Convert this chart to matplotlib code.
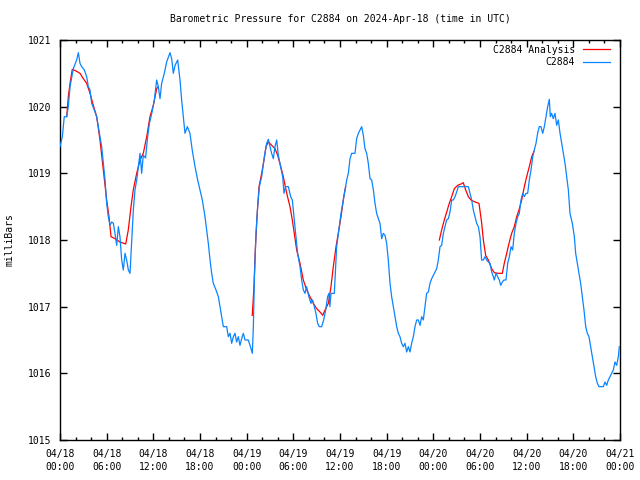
import matplotlib
matplotlib.use("Agg")
import matplotlib.pyplot as plt
from matplotlib.ticker import MultipleLocator, FixedLocator

plt.rcParams['font.family'] = ['DejaVu Sans Mono']

TITLE = "Barometric Pressure for C2884 on 2024-Apr-18 (time in UTC)"
YLABEL = "milliBars"
obs_label = "C2884"
ana_label = "C2884 Analysis"

# hours since 2024-04-18 00:00 UTC
obs_hours = [0, 0.3, 0.55, 0.86, 1.07, 1.29, 1.71, 2.14, 2.36, 2.57, 2.79, 3.13, 3.43, 3.64, 3.86,
             4.07, 4.41, 4.71, 4.93, 5.14, 5.36, 5.57, 5.79, 6.00, 6.21, 6.43, 6.64, 6.86, 7.07,
             7.29, 7.50, 7.71, 7.93, 8.14, 8.36, 8.57, 8.79, 9.00, 9.21, 9.43, 9.64, 9.86, 10.07,
             10.29, 10.50, 10.71, 11.00, 11.27, 11.50, 11.80, 12.13, 12.43, 12.64, 12.86, 13.07,
             13.41, 13.71, 14.14, 14.36, 14.57, 14.79, 15.13, 15.43, 15.64, 15.86, 16.07, 16.37,
             16.71, 17.00, 17.36, 17.70, 18.00, 18.30, 18.64, 18.86, 19.07, 19.29, 19.50, 19.71,
             20.06, 20.36, 20.57, 20.79, 21.00, 21.43, 21.64, 21.86, 22.07, 22.29, 22.50, 22.71,
             22.93, 23.14, 23.36, 23.57, 23.79, 24.21, 24.43, 24.73, 24.86, 25.00, 25.20, 25.41,
             25.63, 25.93, 26.27, 26.57, 26.79, 27.00, 27.21, 27.43, 27.64, 27.86, 28.07, 28.37,
             28.63, 28.80, 29.00, 29.36, 29.66, 29.87, 30.13, 30.30, 30.55, 30.86, 31.07, 31.29,
             31.50, 31.71, 32.00, 32.27, 32.48, 32.70, 32.90, 33.13, 33.34, 33.64, 33.90, 34.16,
             34.41, 34.58, 34.70, 34.84, 35.27, 35.57, 35.79, 36.13, 36.43, 36.64, 36.86, 37.07,
             37.29, 37.50, 37.93, 38.14, 38.36, 38.57, 38.79, 39.00, 39.21, 39.43, 39.64, 39.86,
             40.07, 40.29, 40.50, 40.71, 40.93, 41.14, 41.36, 41.57, 41.79, 42.00, 42.21, 42.43,
             42.64, 42.86, 43.07, 43.29, 43.50, 43.71, 43.93, 44.14, 44.36, 44.57, 44.79, 45.00,
             45.21, 45.43, 45.64, 45.86, 46.07, 46.29, 46.50, 46.71, 46.93, 47.14, 47.36, 47.57,
             47.79, 48.00, 48.21, 48.43, 48.64, 48.86, 49.07, 49.29, 49.50, 49.71, 49.93, 50.14,
             50.36, 50.57, 50.79, 51.00, 51.21, 51.64, 52.07, 52.50, 52.71, 52.93, 53.14, 53.36,
             53.57, 53.79, 54.00, 54.21, 54.43, 54.64, 54.86, 55.07, 55.29, 55.50, 55.71, 55.84,
             56.06, 56.27, 56.48, 56.66, 56.87, 57.08, 57.34, 57.56, 57.77, 57.99, 58.20, 58.41,
             58.63, 58.85, 59.05, 59.27, 59.49, 59.70, 59.91, 60.13, 60.34, 60.56, 60.78, 60.98,
             61.20, 61.41, 61.62, 61.84, 62.06, 62.27, 62.49, 62.70, 62.91, 63.04, 63.21, 63.42,
             63.64, 63.86, 64.07, 64.29, 64.50, 64.71, 64.93, 65.14, 65.36, 65.57, 65.87, 66.13,
             66.30, 66.51, 66.73, 66.94, 67.16, 67.37, 67.59, 67.80, 68.01, 68.23, 68.44, 68.66,
             68.87, 69.09, 69.30, 69.64, 69.86, 70.07, 70.29, 70.50, 70.71, 70.93, 71.14, 71.36,
             71.57, 71.79, 71.91]
obs_mb = [1019.40, 1019.55, 1019.85, 1019.85, 1020.00, 1020.30, 1020.57, 1020.70, 1020.81, 1020.65,
          1020.60, 1020.55, 1020.45, 1020.30, 1020.25, 1020.05, 1019.95, 1019.85, 1019.70, 1019.55,
          1019.40, 1019.15, 1018.90, 1018.55, 1018.35, 1018.22, 1018.27, 1018.25, 1018.10, 1017.92,
          1018.20, 1018.05, 1017.70, 1017.55, 1017.80, 1017.70, 1017.55, 1017.50, 1017.95, 1018.45,
          1018.75, 1018.90, 1019.10, 1019.30, 1019.00, 1019.27, 1019.23, 1019.55, 1019.75, 1019.90,
          1020.10, 1020.40, 1020.30, 1020.12, 1020.35, 1020.50, 1020.67, 1020.81, 1020.72, 1020.50,
          1020.62, 1020.70, 1020.40, 1020.10, 1019.85, 1019.60, 1019.70, 1019.60, 1019.35, 1019.10,
          1018.90, 1018.75, 1018.60, 1018.35, 1018.15, 1017.95, 1017.70, 1017.50, 1017.35, 1017.25,
          1017.15, 1017.00, 1016.85, 1016.70, 1016.70, 1016.55, 1016.60, 1016.45, 1016.55, 1016.60,
          1016.47, 1016.55, 1016.42, 1016.52, 1016.60, 1016.50, 1016.50, 1016.42, 1016.30, 1016.70,
          1017.45, 1018.10, 1018.50, 1018.80, 1018.95, 1019.25, 1019.45, 1019.51, 1019.40, 1019.30,
          1019.22, 1019.40, 1019.50, 1019.27, 1019.10, 1018.95, 1018.70, 1018.80, 1018.80, 1018.65,
          1018.60, 1018.30, 1018.10, 1017.80, 1017.60, 1017.40, 1017.25, 1017.20, 1017.30, 1017.15,
          1017.05, 1017.10, 1017.00, 1016.90, 1016.75, 1016.70, 1016.70, 1016.80, 1016.95, 1017.15,
          1017.20, 1017.00, 1017.20, 1017.20, 1017.90, 1018.10, 1018.40, 1018.60, 1018.75, 1018.90,
          1019.00, 1019.22, 1019.30, 1019.30, 1019.52, 1019.60, 1019.65, 1019.70, 1019.57, 1019.37,
          1019.30, 1019.15, 1018.92, 1018.90, 1018.75, 1018.55, 1018.40, 1018.32, 1018.25, 1018.02,
          1018.10, 1018.07, 1017.95, 1017.70, 1017.35, 1017.15, 1017.00, 1016.85, 1016.70, 1016.60,
          1016.55, 1016.45, 1016.40, 1016.45, 1016.32, 1016.40, 1016.32, 1016.45, 1016.55, 1016.70,
          1016.80, 1016.80, 1016.72, 1016.85, 1016.80, 1017.00, 1017.20, 1017.22, 1017.35, 1017.42,
          1017.47, 1017.52, 1017.57, 1017.70, 1017.90, 1017.92, 1018.10, 1018.20, 1018.30, 1018.32,
          1018.42, 1018.60, 1018.60, 1018.65, 1018.72, 1018.80, 1018.80, 1018.80, 1018.80, 1018.70,
          1018.60, 1018.45, 1018.35, 1018.25, 1018.20, 1018.05, 1017.70, 1017.70, 1017.75, 1017.70,
          1017.67, 1017.65, 1017.52, 1017.45, 1017.40, 1017.50, 1017.45, 1017.40, 1017.32, 1017.37,
          1017.40, 1017.40, 1017.65, 1017.75, 1017.90, 1017.85, 1018.10, 1018.25, 1018.35, 1018.40,
          1018.60, 1018.70, 1018.65, 1018.70, 1018.70, 1018.90, 1019.05, 1019.25, 1019.35, 1019.45,
          1019.60, 1019.70, 1019.70, 1019.60, 1019.70, 1019.85, 1020.00, 1020.11, 1019.85, 1019.90,
          1019.82, 1019.90, 1019.72, 1019.80, 1019.60, 1019.45, 1019.30, 1019.15, 1018.95, 1018.75,
          1018.40, 1018.25, 1018.05, 1017.80, 1017.65, 1017.50, 1017.35, 1017.15, 1016.95, 1016.70,
          1016.60, 1016.55, 1016.40, 1016.25, 1016.10, 1015.95, 1015.85, 1015.80, 1015.80, 1015.80,
          1015.87, 1015.82, 1015.90, 1015.95, 1016.00, 1016.05, 1016.17, 1016.12, 1016.25, 1016.40]

ana1_hours = [0.86, 1.07, 1.29, 1.58, 2.15, 2.57, 3.00, 3.43, 3.86, 4.28, 4.72, 5.14, 5.57, 6.00,
              6.30, 6.56, 7.07, 7.71, 8.45, 8.78, 9.13, 9.42, 9.86, 10.29, 10.71, 11.15, 11.57,
              12.00, 12.43, 12.64]
ana1_mb = [1019.85, 1020.15, 1020.35, 1020.56, 1020.53, 1020.50, 1020.42, 1020.35, 1020.20, 1020.02,
           1019.85, 1019.50, 1019.05, 1018.60, 1018.35, 1018.05, 1018.02, 1017.97, 1017.94, 1018.15,
           1018.50, 1018.75, 1019.00, 1019.20, 1019.30, 1019.55, 1019.85, 1020.02, 1020.27, 1020.30]

ana2_hours = [24.72, 24.94, 25.11, 25.33, 25.59, 25.93, 26.23, 26.49, 26.78, 27.22, 27.64, 27.99,
              28.38, 28.71, 29.15, 29.57, 29.87, 30.12, 30.43, 30.86, 31.28, 31.72, 32.14, 32.57,
              33.00, 33.43, 33.78, 34.16, 34.50, 34.84, 35.14, 35.49, 35.78, 36.13, 36.48, 36.73]
ana2_mb = [1016.87, 1017.30, 1017.85, 1018.35, 1018.80, 1019.00, 1019.20, 1019.40, 1019.47, 1019.42,
           1019.37, 1019.27, 1019.10, 1018.95, 1018.70, 1018.50, 1018.30, 1018.10, 1017.85, 1017.65,
           1017.40, 1017.25, 1017.15, 1017.05, 1016.97, 1016.92, 1016.87, 1016.97, 1017.05, 1017.30,
           1017.60, 1017.90, 1018.10, 1018.35, 1018.65, 1018.80]

ana3_hours = [48.77, 49.07, 49.41, 49.72, 50.05, 50.36, 50.70, 51.13, 51.56, 51.85, 52.16, 52.50,
              52.84, 53.36, 53.87, 54.22, 54.43, 54.73, 55.07, 55.50, 55.84, 56.35, 56.87, 57.12,
              57.43, 57.73, 58.07, 58.41, 58.72, 59.01, 59.36, 59.70, 60.00, 60.34, 60.65, 60.94]
ana3_mb = [1018.00, 1018.15, 1018.30, 1018.42, 1018.55, 1018.65, 1018.77, 1018.82, 1018.84, 1018.86,
           1018.75, 1018.65, 1018.60, 1018.57, 1018.55, 1018.25, 1018.00, 1017.77, 1017.70, 1017.57,
           1017.51, 1017.50, 1017.50, 1017.65, 1017.80, 1017.95, 1018.10, 1018.20, 1018.35, 1018.45,
           1018.60, 1018.80, 1018.95, 1019.10, 1019.25, 1019.33]

x_tick_hours = [0, 6, 12, 18, 24, 30, 36, 42, 48, 54, 60, 66, 72]
x_tick_labels = ["04/18\n00:00", "04/18\n06:00", "04/18\n12:00", "04/18\n18:00",
                 "04/19\n00:00", "04/19\n06:00", "04/19\n12:00", "04/19\n18:00",
                 "04/20\n00:00", "04/20\n06:00", "04/20\n12:00", "04/20\n18:00",
                 "04/21\n00:00"]
y_ticks = [1015, 1016, 1017, 1018, 1019, 1020, 1021]

RED = "#ff0000"
BLUE = "#0a84ff"
FS = 7
LW = 0.9

fig = plt.figure(figsize=(6.4, 4.8), dpi=100)
ax = fig.add_axes([60/640, 40/480, 560/640, 400/480])

ax.plot(ana1_hours, ana1_mb, color=RED, lw=LW, label=ana_label, zorder=2)
ax.plot(ana2_hours, ana2_mb, color=RED, lw=LW, zorder=2)
ax.plot(ana3_hours, ana3_mb, color=RED, lw=LW, zorder=2)
ax.plot(obs_hours, obs_mb, color=BLUE, lw=LW, label=obs_label, zorder=3)

ax.set_xlim(0, 72)
ax.set_ylim(1015, 1021)
ax.xaxis.set_major_locator(FixedLocator(x_tick_hours))
ax.set_xticklabels(x_tick_labels)
ax.xaxis.set_minor_locator(MultipleLocator(2))
ax.set_yticks(y_ticks)
ax.set_yticklabels([str(v) for v in y_ticks])

ax.tick_params(which='both', direction='in', top=True, right=True, labelsize=FS, width=1, color='black')
ax.tick_params(which='major', length=5)
ax.tick_params(which='minor', length=2.5)
ax.tick_params(axis='x', which='major', pad=6.5)
ax.tick_params(axis='y', which='major', pad=6)
for lab in ax.get_xticklabels():
    lab.set_linespacing(1.35)
for s in ax.spines.values():
    s.set_linewidth(1.0)

leg = ax.legend(loc='upper right', bbox_to_anchor=(0.9964, 1.0075), frameon=False,
                markerfirst=False, fontsize=FS, handlelength=2.8, handletextpad=0.8,
                labelspacing=0.25, borderaxespad=0.4)

fig.text(340/640, 1 - 19/480, TITLE, ha='center', va='center', fontsize=FS)
fig.text(10/640, 240/480, YLABEL, ha='center', va='center', rotation=90, fontsize=FS)

fig.savefig("out.png", dpi=100)
